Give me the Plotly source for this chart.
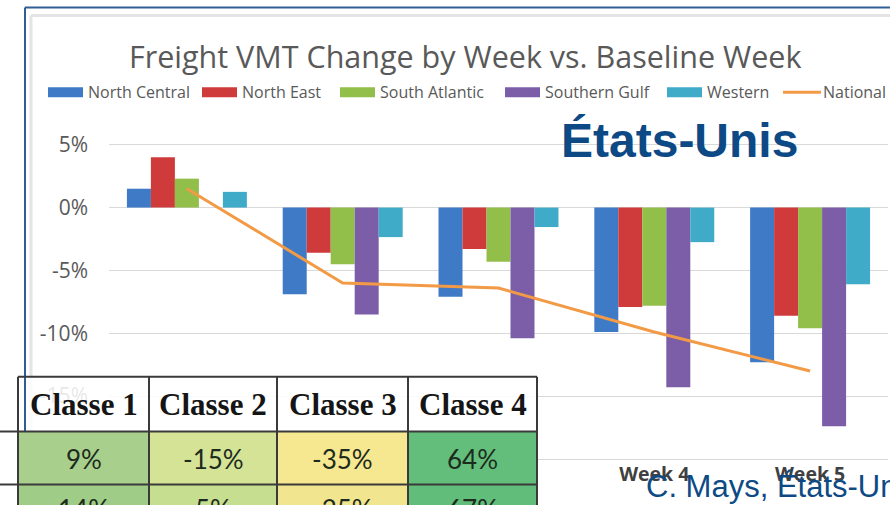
import plotly.graph_objects as go

# ---- chart data (percent change vs. baseline week) ----
weeks = ["Week 1", "Week 2", "Week 3", "Week 4", "Week 5"]
north_central = [1.5, -6.9, -7.1, -9.9, -12.3]
north_east = [4.0, -3.6, -3.3, -7.9, -8.6]
south_atlantic = [2.3, -4.5, -4.3, -7.8, -9.6]
southern_gulf = [0.0, -8.5, -10.4, -14.3, -17.4]
western = [1.25, -2.35, -1.55, -2.75, -6.1]
national = [1.5, -6.0, -6.4, -9.9, -13.0]

region_names = ["North Central", "North East", "South Atlantic", "Southern Gulf", "Western"]
region_values = [north_central, north_east, south_atlantic, southern_gulf, western]
region_colors = ["#3f7ac6", "#cf3b3b", "#92be4a", "#7b5ea7", "#3fabc8"]
national_color = "#f29a45"

y_ticks = [-20, -15, -10, -5, 0, 5]
y_tick_text = ["-20%", "-15%", "-10%", "-5%", "0%", "5%"]

# ---- table data ----
table_header = ["Classe 1", "Classe 2", "Classe 3", "Classe 4"]
table_row1 = ["9%", "-15%", "-35%", "64%"]
table_row2 = ["14%", "5%", "-25%", "67%"]
row1_colors = ["#a8d08c", "#d4e396", "#f6e791", "#63be7b"]
row2_colors = ["#9fcc86", "#c6de90", "#f1e58f", "#61bd7a"]

W, H = 890, 505
PL, PR = 109, 888          # plot area left/right (px)
PT, PB = 106.7, 459.5      # plot area top/bottom (px)


def px(x):
    return (x - PL) / (PR - PL)


def py(y):
    return (PB - y) / (PB - PT)


fig = go.Figure()
for name, vals, col in zip(region_names, region_values, region_colors):
    fig.add_trace(go.Bar(x=weeks, y=vals, name=name, marker=dict(color=col, line=dict(width=0))))
fig.add_trace(go.Scatter(x=weeks, y=national, name="National", mode="lines",
                         line=dict(color=national_color, width=3)))

shapes = []
annotations = []

# chart frame
shapes.append(dict(type="line", xref="paper", yref="paper", x0=px(31), x1=px(892), y0=py(15), y1=py(15),
                   line=dict(color="#e4e4e4", width=3)))
shapes.append(dict(type="line", xref="paper", yref="paper", x0=px(31), x1=px(31), y0=py(15), y1=py(520),
                   line=dict(color="#e4e4e4", width=3)))
shapes.append(dict(type="line", xref="paper", yref="paper", x0=px(25), x1=px(892), y0=py(7), y1=py(7),
                   line=dict(color="#2f5e95", width=2)))

# title
annotations.append(dict(text="Freight VMT Change by Week vs. Baseline Week", xref="paper", yref="paper",
                        x=px(465), y=py(56), xanchor="center", yanchor="middle", showarrow=False,
                        font=dict(family="Open Sans", size=30.5, color="#595959")))

# legend
legend_x = [48, 202, 340, 505, 667, 783]
legend_names = region_names + ["National"]
legend_colors = region_colors + [national_color]
for lx, nm, col in zip(legend_x, legend_names, legend_colors):
    if nm == "National":
        shapes.append(dict(type="line", xref="paper", yref="paper", x0=px(lx), x1=px(lx + 38),
                           y0=py(92), y1=py(92), line=dict(color=col, width=3)))
    else:
        shapes.append(dict(type="rect", xref="paper", yref="paper", x0=px(lx), x1=px(lx + 35),
                           y0=py(97), y1=py(87), fillcolor=col, line=dict(width=0)))
    annotations.append(dict(text=nm, xref="paper", yref="paper", x=px(lx + 38), y=py(92),
                            xanchor="left", yanchor="middle", showarrow=False,
                            font=dict(family="Open Sans", size=16, color="#595959")))

# overlay labels
annotations.append(dict(text="<b>États-Unis</b>", xref="paper", yref="paper", x=px(679), y=py(140),
                        xanchor="center", yanchor="middle", showarrow=False,
                        font=dict(family="Liberation Sans", size=48, color="#0d4a85")))

# table
col_edges = [18, 149, 277, 408, 537]
row_edges = [377, 432, 485, 545]
for c in range(4):
    shapes.append(dict(type="rect", xref="paper", yref="paper", x0=px(col_edges[c]), x1=px(col_edges[c + 1]),
                       y0=py(row_edges[1]), y1=py(row_edges[0]), fillcolor="rgba(255,255,255,0.86)",
                       line=dict(width=0)))
shapes.append(dict(type="rect", xref="paper", yref="paper", x0=px(-5), x1=px(18),
                   y0=py(545), y1=py(377), fillcolor="white", line=dict(width=0)))
# blue frame edge passing over the header row
shapes.append(dict(type="line", xref="paper", yref="paper", x0=px(25), x1=px(25), y0=py(7), y1=py(432),
                   line=dict(color="#2f5e95", width=2)))
for r, colors in ((1, row1_colors), (2, row2_colors)):
    for c in range(4):
        shapes.append(dict(type="rect", xref="paper", yref="paper", x0=px(col_edges[c]),
                           x1=px(col_edges[c + 1]), y0=py(row_edges[r + 1]), y1=py(row_edges[r]),
                           fillcolor=colors[c], line=dict(width=0)))
bc = "#3a3a3a"
shapes.append(dict(type="line", xref="paper", yref="paper", x0=px(18), x1=px(537), y0=py(377), y1=py(377),
                   line=dict(color=bc, width=2)))
for yy in (432, 485):
    shapes.append(dict(type="line", xref="paper", yref="paper", x0=px(-5), x1=px(537), y0=py(yy), y1=py(yy),
                       line=dict(color=bc, width=2)))
for xx in col_edges:
    shapes.append(dict(type="line", xref="paper", yref="paper", x0=px(xx), x1=px(xx), y0=py(377), y1=py(545),
                       line=dict(color=bc, width=2)))

for c in range(4):
    cx = (col_edges[c] + col_edges[c + 1]) / 2
    annotations.append(dict(text="<b>" + table_header[c] + "</b>", xref="paper", yref="paper", x=px(cx),
                            y=py(405), xanchor="center", yanchor="middle", showarrow=False,
                            font=dict(family="Liberation Serif", size=31, color="#151515")))
    annotations.append(dict(text=table_row1[c], xref="paper", yref="paper", x=px(cx), y=py(459),
                            xanchor="center", yanchor="middle", showarrow=False,
                            font=dict(family="Lato", size=26, color="#1d2b1d")))
    annotations.append(dict(text=table_row2[c], xref="paper", yref="paper", x=px(cx), y=py(510),
                            xanchor="center", yanchor="middle", showarrow=False,
                            font=dict(family="Lato", size=26, color="#1d2b1d")))

annotations.append(dict(text="C. Mays, États-Unis", xref="paper", yref="paper", x=px(644), y=py(487),
                        xanchor="left", yanchor="middle", showarrow=False,
                        font=dict(family="Liberation Sans", size=31, color="#0d4a85")))

fig.update_layout(
    width=W, height=H, autosize=False,
    margin=dict(l=PL, r=W - PR, t=PT, b=H - PB, pad=0),
    paper_bgcolor="white", plot_bgcolor="white",
    barmode="group", bargap=0.23, bargroupgap=0,
    showlegend=False,
    shapes=shapes, annotations=annotations,
    xaxis=dict(type="category", categoryorder="array", categoryarray=weeks, range=[-0.5, 4.5],
               showgrid=False, showline=True, linecolor="#d9d9d9", linewidth=1, ticks="",
               tickfont=dict(family="Open Sans", size=19.5, color="#404040", weight="bold"),
               ticklabelstandoff=-2),
    yaxis=dict(range=[-20, 8], tickvals=y_ticks, ticktext=y_tick_text, showgrid=True,
               gridcolor="#d9d9d9", gridwidth=1, zeroline=False, showline=False, ticks="",
               tickfont=dict(family="Open Sans", size=21, color="#595959"), ticklabelstandoff=20),
)

fig.write_html("out.html")
